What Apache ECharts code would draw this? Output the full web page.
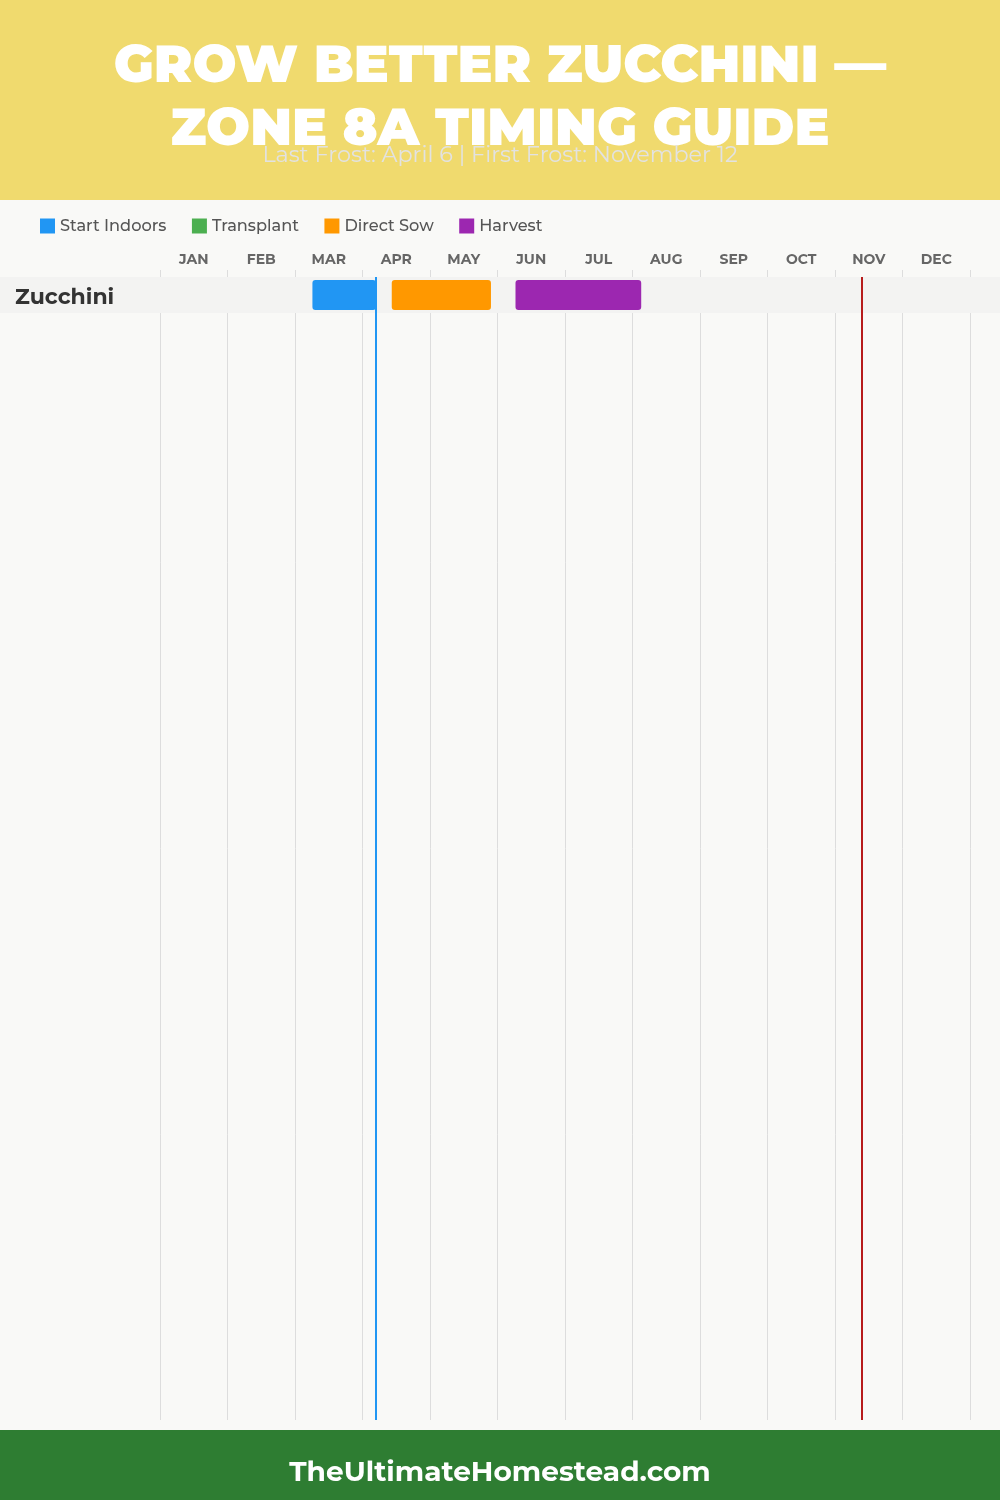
<!DOCTYPE html>
<html>
<head>
<meta charset="utf-8">
<script src="https://cdn.jsdelivr.net/npm/echarts@6/dist/echarts.min.js"></script>
<style>
html,body{margin:0;padding:0;background:#f9f9f7;}
#chart{width:1000px;height:1500px;}
</style>
</head>
<body>
<div id="chart"></div>
<script>
// ---- data ----
const months = ['JAN','FEB','MAR','APR','MAY','JUN','JUL','AUG','SEP','OCT','NOV','DEC'];
const crops = ['Zucchini'];
const phases = ['Start Indoors','Transplant','Direct Sow','Harvest'];
// [crop, start (MM-DD), end (MM-DD)]
const startIndoors = [['Zucchini','03-08','04-06']];
const transplant = [];
const directSow = [['Zucchini','04-13','05-28']];
const harvest = [['Zucchini','06-08','08-04']];
const lastFrost = '04-06';
const firstFrost = '11-12';
const titleText = 'GROW BETTER ZUCCHINI —\nZONE 8A TIMING GUIDE';
const subtitleText = 'Last Frost: April 6 | First Frost: November 12';
const footerText = 'TheUltimateHomestead.com';

// ---- styles ----
const phaseColors = ['#2196f3','#4caf50','#ff9800','#9c27b0'];
const FONT = 'Montserrat, Inter, "Open Sans", sans-serif';

const daysIn = [31,28,31,30,31,30,31,31,30,31,30,31];
function toMonth(md){
  const [m,d] = md.split('-').map(Number);
  return (m-1) + d/daysIn[m-1];
}
function toRows(list){
  return list.map(r => [crops.indexOf(r[0]), toMonth(r[1]), toMonth(r[2])]);
}
const ROW_SLOTS = 31.75;

function barRender(color){
  return function(params, api){
    const row = api.value(0);
    const p0 = api.coord([api.value(1), row]);
    const p1 = api.coord([api.value(2), row + 1]);
    return {
      type:'rect',
      shape:{x:p0[0], y:p0[1]+3, width:p1[0]-p0[0], height:p1[1]-p0[1]-6, r:3},
      style:{fill:color}
    };
  };
}

const phaseData = [startIndoors, transplant, directSow, harvest];

const chart = echarts.init(document.getElementById('chart'), null, {renderer:'canvas'});

const series = [];
// row band + crop label
series.push({
  type:'custom', name:'rows', xAxisIndex:1, yAxisIndex:0, silent:true, z:1,
  data: crops.map((c,i)=>[i]),
  renderItem(params, api){
    const row = api.value(0);
    const a = api.coord([0,row]);
    const b = api.coord([0,row+1]);
    return {type:'group', children:[
      {type:'rect', shape:{x:0, y:a[1], width:api.getWidth(), height:b[1]-a[1]}, style:{fill:'#f3f3f2'}},
      {type:'text', style:{x:15, y:(a[1]+b[1])/2 + 3, text:crops[row], fill:'#333', font:'bold 22px '+FONT, textVerticalAlign:'middle', textAlign:'left'}}
    ]};
  },
  markLine:{
    silent:true, symbol:'none', label:{show:false}, z:10,
    data:[
      {xAxis: toMonth(lastFrost), lineStyle:{color:'#2196f3', width:2, type:'solid'}},
      {xAxis: toMonth(firstFrost), lineStyle:{color:'#b71c1c', width:2, type:'solid'}}
    ]
  }
});
phases.forEach((p,i)=>{
  series.push({
    type:'custom', name:p, xAxisIndex:1, yAxisIndex:0, z:5,
    itemStyle:{color:phaseColors[i]},
    encode:{x:[1,2], y:0},
    data: toRows(phaseData[i]),
    renderItem: barRender(phaseColors[i])
  });
});

chart.setOption({
  backgroundColor:'#f9f9f7',
  animation:false,
  graphic:[
    {type:'rect', left:0, top:0, shape:{width:1000, height:200}, style:{fill:'#f0da6e'}, z:-10},
    {type:'rect', left:0, top:1430, shape:{width:1000, height:70}, style:{fill:'#2e7d32'}, z:-10}
  ],
  title:[
    {text:titleText, left:'center', top:30,
      textStyle:{color:'#fff', fontSize:52, fontWeight:900, fontFamily:FONT, lineHeight:63}},
    {text:subtitleText, left:'center', top:136,
      textStyle:{color:'#e2e2e2', fontSize:22.3, fontWeight:'normal', fontFamily:FONT, lineHeight:28}},
    {text:footerText, left:'center', top:1450,
      textStyle:{color:'#fff', fontSize:28, fontWeight:'bold', fontFamily:FONT, lineHeight:36}}
  ],
  legend:{
    data:phases, left:40, top:218, padding:0, icon:'rect', itemWidth:15, itemHeight:15, itemGap:25.5,
    textStyle:{color:'#555', fontSize:16.2, fontWeight:500, fontFamily:FONT}, selectedMode:false
  },
  grid:{left:160, right:30, top:277, bottom:80},
  xAxis:[
    {type:'category', data:months, position:'top', boundaryGap:true,
      axisLine:{show:false},
      axisTick:{show:true, length:7, interval:0, lineStyle:{color:'#dddddd'}},
      axisLabel:{interval:0, margin:10, color:'#666', fontSize:14, fontWeight:'bold', fontFamily:FONT},
      splitLine:{show:true, interval:0, lineStyle:{color:'#dddddd', width:1}}},
    {type:'value', min:0, max:12, show:false, splitLine:{show:false}}
  ],
  yAxis:[{type:'value', inverse:true, min:0, max:ROW_SLOTS, show:false, splitLine:{show:false}}],
  series
});
</script>
</body>
</html>
